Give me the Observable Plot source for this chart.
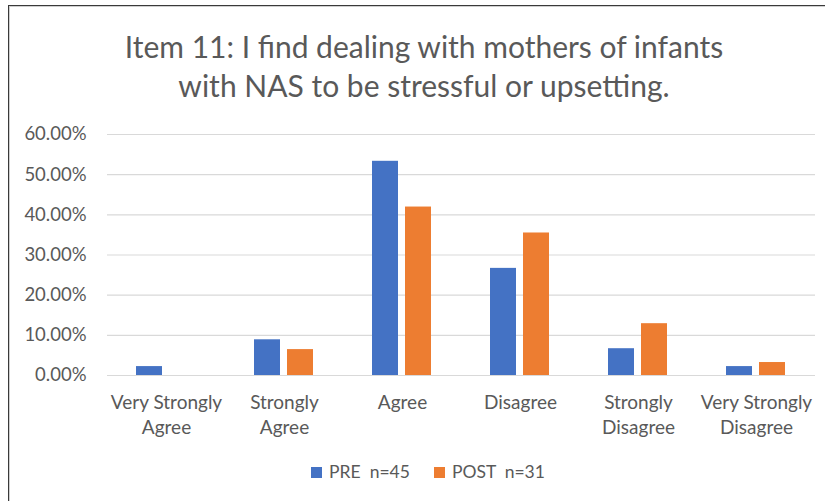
<!DOCTYPE html>
<html>
<head>
<meta charset="utf-8">
<script src="https://cdn.jsdelivr.net/npm/d3@7"></script>
<script src="https://cdn.jsdelivr.net/npm/@observablehq/plot@0.6"></script>
<style>
  html, body { margin: 0; padding: 0; background: #fff; }
  #frame { position: relative; width: 825px; height: 501px; overflow: hidden; background: #fff; font-family: Lato, "Open Sans", sans-serif; color: #595959; }
  #border { position: absolute; left: 8px; top: 5px; width: 840px; height: 520px; border-top: 1px solid #3a3a3a; border-left: 1px solid #3a3a3a; box-shadow: inset 1px 1px 0 #cfcfcf; box-sizing: border-box; }
  #title { position: absolute; left: 0; width: 848px; top: 27px; text-align: center; font-size: 30px; line-height: 39px; color: #595959; }
  #chart { position: absolute; left: 0; top: 110px; }
  #legend { position: absolute; left: 4px; width: 848px; top: 461px; text-align: center; font-size: 17.5px; color: #595959; }
  .sw { display: inline-block; width: 11px; height: 11px; margin-right: 7px; vertical-align: 0px; }
  .item { display: inline-block; margin: 0 12px; white-space: pre; }
</style>
</head>
<body>
<div id="frame">
  <div id="border"></div>
  <div id="title">Item 11: I find dealing with mothers of infants<br>with NAS to be stressful or upsetting.</div>
  <div id="chart"></div>
  <div id="legend"></div>
</div>
<script>
const categories = ["Very Strongly Agree", "Strongly Agree", "Agree", "Disagree", "Strongly Disagree", "Very Strongly Disagree"];
const tickLabels = ["Very Strongly\nAgree", "Strongly\nAgree", "Agree", "Disagree", "Strongly\nDisagree", "Very Strongly\nDisagree"];
const seriesNames = ["PRE", "POST"];
const legendLabels = ["PRE  n=45", "POST  n=31"];
const preValues = [2.22, 8.89, 53.33, 26.67, 6.67, 2.22];
const postValues = [0, 6.45, 41.94, 35.48, 12.90, 3.23];
const yTicks = [0, 10, 20, 30, 40, 50, 60];
const colors = ["#4472C4", "#ED7D31"];

const data = [];
categories.forEach((c, i) => {
  data.push({category: c, series: "PRE", value: preValues[i]});
  data.push({category: c, series: "POST", value: postValues[i]});
});
const labelOf = new Map(categories.map((c, i) => [c, tickLabels[i]]));

const chart = Plot.plot({
  width: 825,
  height: 335,
  marginLeft: 107,
  marginRight: 10,
  marginTop: 24,
  marginBottom: 70,
  style: {fontFamily: "Lato, 'Open Sans', sans-serif", fontSize: "15px", color: "#595959", background: "transparent"},
  fx: {domain: categories, padding: 0, label: null},
  x: {domain: seriesNames, paddingInner: 0.2, paddingOuter: 0.867, axis: null},
  y: {domain: [0, 60], label: null},
  color: {domain: seriesNames, range: colors},
  marks: [
    Plot.gridY(yTicks, {stroke: "#d9d9d9", strokeOpacity: 1, strokeWidth: 1.2}),
    Plot.barY(data, {fx: "category", x: "series", y: "value", fill: "series"}),
    Plot.axisY(yTicks, {tickSize: 0, tickPadding: 21, tickFormat: d => d.toFixed(2) + "%", label: null, fontSize: 18.5}),
    Plot.axisFx({anchor: "bottom", tickSize: 0, tickPadding: 16, tickFormat: d => labelOf.get(d), label: null, fontSize: 19, lineHeight: 1.32})
  ]
});
document.getElementById("chart").appendChild(chart);

const legend = document.getElementById("legend");
seriesNames.forEach((s, i) => {
  const item = document.createElement("span");
  item.className = "item";
  const sw = document.createElement("span");
  sw.className = "sw";
  sw.style.background = colors[i];
  item.appendChild(sw);
  item.appendChild(document.createTextNode(legendLabels[i]));
  legend.appendChild(item);
});
</script>
</body>
</html>
